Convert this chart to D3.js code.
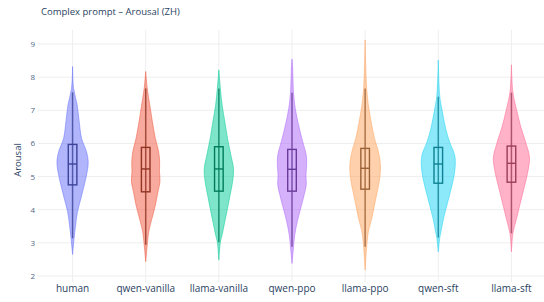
<!DOCTYPE html>
<html>
<head>
<meta charset="utf-8">
<script src="https://cdn.jsdelivr.net/npm/d3@7"></script>
<style>
  body { margin: 0; background: #fff; }
  svg { display: block; font-family: "Open Sans", sans-serif; }
</style>
</head>
<body>
<div id="chart"></div>
<script>
// categories and colours (plotly default palette)
const categories = ["human", "qwen-vanilla", "llama-vanilla", "qwen-ppo", "llama-ppo", "qwen-sft", "llama-sft"];
const colors = ["#636efa", "#EF553B", "#00cc96", "#ab63fa", "#FFA15A", "#19d3f3", "#FF6692"];
const yTicks = [2, 3, 4, 5, 6, 7, 8, 9];

// box stats: [lower whisker, q1, median, q3, upper whisker]
const boxStats = [
  [3.14, 4.75, 5.38, 5.97, 7.54],
  [2.94, 4.54, 5.23, 5.88, 7.66],
  [3.02, 4.56, 5.23, 5.90, 7.66],
  [2.88, 4.56, 5.22, 5.82, 7.53],
  [2.88, 4.62, 5.25, 5.85, 7.66],
  [3.16, 4.80, 5.38, 5.88, 7.41],
  [3.29, 4.83, 5.40, 5.92, 7.53]
];

// violin outlines: [arousal, relative density]
const humanDens = [[8.32,0],[7.66,0.06],[7.16,0.27],[6.66,0.39],[6.15,0.53],[5.75,0.82],[5.45,0.92],[5.15,0.86],[4.75,0.69],[4.34,0.49],[3.94,0.29],[3.54,0.18],[3.14,0.09],[2.65,0]];
const qwenVanillaDens = [[8.17,0],[7.66,0.09],[7.16,0.24],[6.66,0.39],[6.15,0.57],[5.75,0.76],[5.45,0.82],[5.15,0.81],[4.85,0.84],[4.54,0.72],[4.14,0.57],[3.74,0.37],[3.34,0.18],[2.94,0.09],[2.43,0]];
const llamaVanillaDens = [[8.22,0],[7.66,0.09],[7.16,0.19],[6.66,0.35],[6.15,0.51],[5.64,0.71],[5.24,0.86],[4.85,0.81],[4.44,0.66],[4.04,0.51],[3.64,0.35],[3.24,0.19],[3.02,0.09],[2.48,0]];
const qwenPpoDens = [[8.55,0],[8.35,0.03],[7.53,0.09],[7.06,0.19],[6.55,0.39],[6.05,0.63],[5.64,0.84],[5.34,0.86],[5.04,0.82],[4.75,0.84],[4.44,0.71],[4.04,0.51],[3.64,0.31],[3.24,0.16],[2.88,0.09],[2.38,0]];
const llamaPpoDens = [[9.12,0],[8.27,0.04],[7.66,0.09],[7.16,0.19],[6.66,0.35],[6.15,0.55],[5.75,0.78],[5.35,0.9],[4.95,0.86],[4.54,0.71],[4.14,0.55],[3.74,0.39],[3.34,0.19],[2.88,0.09],[2.18,0]];
const qwenSftDens = [[8.52,0],[7.41,0.09],[6.96,0.24],[6.46,0.43],[6.05,0.66],[5.65,0.96],[5.35,1.0],[4.95,0.9],[4.54,0.71],[4.14,0.51],[3.74,0.31],[3.34,0.16],[3.16,0.09],[2.73,0]];
const llamaSftDens = [[8.37,0],[7.53,0.09],[7.0,0.31],[6.5,0.55],[6.0,0.86],[5.6,1.06],[5.3,1.02],[4.9,0.86],[4.49,0.66],[4.09,0.47],[3.69,0.28],[3.29,0.09],[2.73,0]];
const densities = [humanDens, qwenVanillaDens, llamaVanillaDens, qwenPpoDens, llamaPpoDens, qwenSftDens, llamaSftDens];

const width = 544, height = 302;
const margin = { top: 30, left: 38, right: 0, bottom: 20 };

const svg = d3.select("#chart").append("svg")
  .attr("width", width)
  .attr("height", height);

const x = d3.scaleBand().domain(categories).range([36, 548]).padding(0);
const y = d3.scaleLinear().domain([2, 9]).range([276, 44]);
const w = d3.scaleLinear().domain([0, 1]).range([0, 17]);

// grid
svg.append("g").selectAll("line.h")
  .data(yTicks).join("line")
  .attr("x1", margin.left).attr("x2", width)
  .attr("y1", d => y(d)).attr("y2", d => y(d))
  .attr("stroke", "#eeeeee").attr("stroke-width", 1);

svg.append("g").selectAll("line.v")
  .data(categories).join("line")
  .attr("x1", d => x(d) + x.bandwidth() / 2).attr("x2", d => x(d) + x.bandwidth() / 2)
  .attr("y1", margin.top).attr("y2", height - margin.bottom)
  .attr("stroke", "#eeeeee").attr("stroke-width", 1);

// y axis labels
const yAxis = svg.append("g")
  .attr("transform", `translate(${margin.left - 3},0)`)
  .call(d3.axisLeft(y).tickValues(yTicks).tickFormat(d3.format("d")).tickSize(0).tickPadding(0));
yAxis.select(".domain").remove();
yAxis.selectAll("text").attr("fill", "#506784").attr("font-size", "8px")
  .attr("font-family", "Open Sans, sans-serif");

// x axis labels
const xAxis = svg.append("g")
  .attr("transform", `translate(0,${height - 17})`)
  .call(d3.axisBottom(x).tickSize(0).tickPadding(0));
xAxis.select(".domain").remove();
xAxis.selectAll("text").attr("fill", "#2a3f5f").attr("font-size", "10px")
  .attr("font-family", "Open Sans, sans-serif").attr("dy", "0.71em");

// violins
categories.forEach((c, i) => {
  const cx = x(c) + x.bandwidth() / 2;
  const col = colors[i];
  const dark = d3.color(col).darker(1.4);
  const g = svg.append("g");

  const area = d3.area()
    .curve(d3.curveCatmullRom)
    .y(d => y(d[0]))
    .x0(d => cx - w(d[1]))
    .x1(d => cx + w(d[1]));

  g.append("path")
    .datum(densities[i])
    .attr("d", area)
    .attr("fill", col).attr("fill-opacity", 0.5)
    .attr("stroke", col).attr("stroke-opacity", 0.5).attr("stroke-width", 1);

  const s = boxStats[i];
  g.append("line")
    .attr("x1", cx).attr("x2", cx)
    .attr("y1", y(s[0])).attr("y2", y(s[4]))
    .attr("stroke", dark).attr("stroke-width", 1.5).attr("stroke-opacity", 0.8);

  g.append("rect")
    .attr("x", cx - 4.3).attr("width", 8.6)
    .attr("y", y(s[3])).attr("height", y(s[1]) - y(s[3]))
    .attr("fill", "none")
    .attr("stroke", dark).attr("stroke-width", 1.4);

  g.append("line")
    .attr("x1", cx - 4.3).attr("x2", cx + 4.3)
    .attr("y1", y(s[2])).attr("y2", y(s[2]))
    .attr("stroke", dark).attr("stroke-width", 1.4);
});

// titles
svg.append("text")
  .attr("x", 41).attr("y", 15)
  .attr("font-size", "9.5px").attr("fill", "#2a3f5f")
  .text("Complex prompt – Arousal (ZH)");

svg.append("text")
  .attr("transform", `translate(21,${y(5.5)}) rotate(-90)`)
  .attr("text-anchor", "middle")
  .attr("font-size", "9.5px").attr("fill", "#2a3f5f")
  .text("Arousal");
</script>
</body>
</html>
